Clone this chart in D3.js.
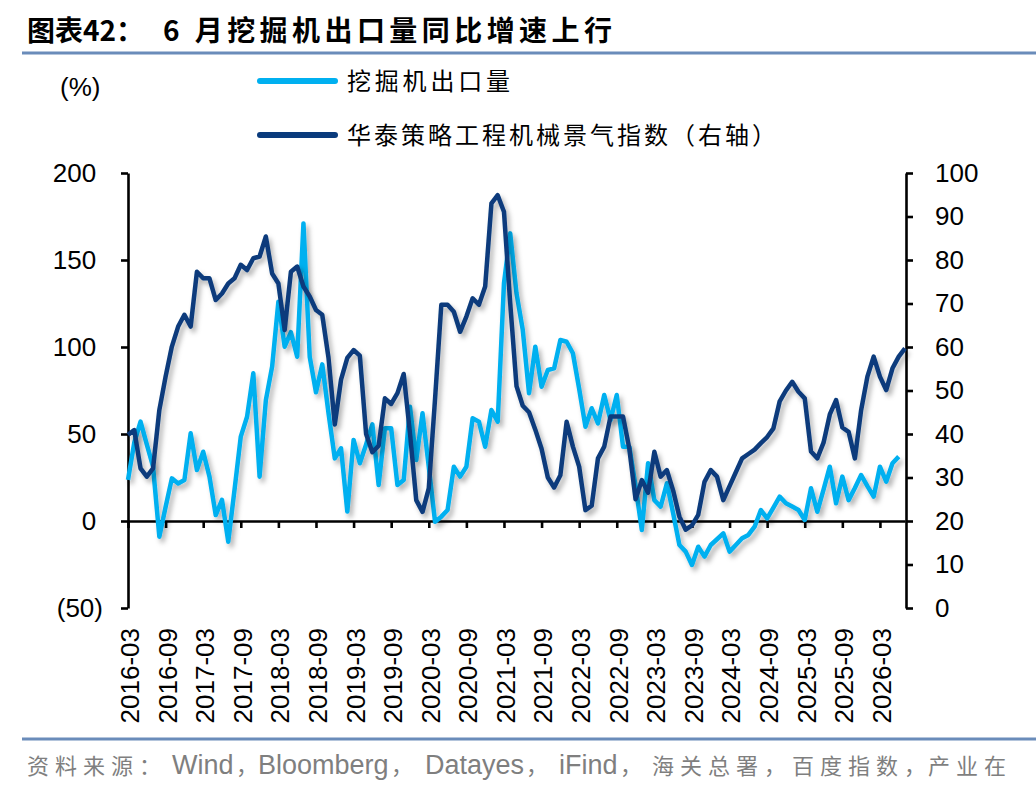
<!DOCTYPE html>
<html>
<head>
<meta charset="utf-8">
<script src="https://cdn.jsdelivr.net/npm/d3@7"></script>
<style>
  body { margin: 0; background: #fff; }
  svg { display: block; }
  .tick text { font-family: "Liberation Sans", Arial, sans-serif; font-size: 26px; fill: #000; }
  .cn { font-family: "Noto Sans CJK SC", sans-serif; }
</style>
</head>
<body>
<div id="chart"></div>
<script>
// 挖掘机出口量同比 (%), 2016-03 .. 2026-06
var exportYoY = [
  23.6, 45, 57.1, 44, 31.2, -9, 8, 24.5, 21.6, 23.6,
  50.4, 29.3, 39.8, 25.5, 3.4, 12.1, -11.9, 18, 48.5, 59.9,
  84.9, 25.5, 69.5, 88.7, 126, 100.2, 108.5, 94.4, 171, 94.4,
  74, 90, 62, 36, 41.8, 5.4, 46.6, 33.2, 44, 55.5,
  20.7, 53.3, 53.3, 20.7, 23.6, 65.7, 35, 61.9, 31.2, -0.4,
  2.5, 6.3, 31.2, 25.5, 31.2, 59, 57.1, 42.7, 63.8, 57.1,
  136.6, 165.3, 130.9, 109.8, 73.4, 100.2, 77.2, 86.8, 87.7, 104,
  103, 96.4, 76, 54.2, 64.8, 56.1, 72.4, 58, 72.4, 42.7,
  42.7, 20, -5.2, 33.2, 12, 8.2, 21.7, 4.4, -13.8, -17.6,
  -25.3, -14.8, -20.5, -13.8, -10.5, -7.1, -17.6, -13.8, -9.9, -8,
  -3.3, 6.3, 1.5, 7.7, 14, 10.2, 8.3, 6.3, 0.6, 18.8,
  5.3, 18, 31.2, 10.2, 25.5, 12, 19, 26.4, 20, 14,
  31.2, 22.6, 33.2, 37
];

// 华泰策略工程机械景气指数 (right axis), 2016-03 .. 2026-07
var boomIndex = [
  39.8, 40.9, 32.1, 30.2, 32.1, 45.5, 53.2, 60.1, 64.7, 67.4,
  64.7, 77.3, 75.8, 75.8, 70.8, 72.3, 74.6, 75.8, 78.9, 77.7,
  80.4, 80.8, 85.4, 76.9, 74.6, 63.9, 77.3, 78.5, 73.9, 71.6,
  68.5, 67.4, 57.5, 42.2, 52.5, 57.5, 59.3, 58, 40, 35.8,
  37.3, 48.2, 46.9, 49.4, 53.8, 40.2, 24.8, 22.1, 27.5, 48,
  69.7, 69.7, 68.1, 63.5, 67, 71.2, 69.7, 73.9, 93, 94.9,
  91.1, 70, 51, 46.5, 45, 41, 36.6, 30, 27.7, 30.5,
  42.8, 37.1, 32.5, 22.5, 23.5, 34.4, 37.1, 44, 44, 44,
  36.7, 25, 29.4, 26.5, 35.9, 30.2, 31.7, 27, 21, 18,
  19, 21.4, 29, 31.7, 30.2, 24.8, 28, 31.2, 34.4, 35.4,
  36.4, 37.9, 39.3, 41.3, 47.5, 50, 52, 49.7, 48.2, 36,
  34.4, 38, 44.5, 47.8, 41.5, 40.5, 34.4, 45.5, 53.2, 57.8,
  53.2, 50.1, 55.1, 57.8, 59.7
];

var months = d3.timeMonth.range(new Date(2016, 2, 1), new Date(2026, 7, 1))
  .map(d3.timeFormat("%Y-%m"));

var xTickLabels = [
  "2016-03", "2016-09", "2017-03", "2017-09", "2018-03", "2018-09", "2019-03",
  "2019-09", "2020-03", "2020-09", "2021-03", "2021-09", "2022-03", "2022-09",
  "2023-03", "2023-09", "2024-03", "2024-09", "2025-03", "2025-09", "2026-03"
];
var leftTicks = [-50, 0, 50, 100, 150, 200];
var rightTicks = [0, 10, 20, 30, 40, 50, 60, 70, 80, 90, 100];

var seriesNames = ["挖掘机出口量", "华泰策略工程机械景气指数（右轴）"];
var colors = ["#00b0f0", "#0a3b7c"];

// source line pieces: [text, x, latin?]
var sourceParts = [
  ["资料来源：", 27, false], ["Wind", 172, true], ["，", 236, false],
  ["Bloomberg", 258, true], ["，", 391, false], ["Datayes", 425, true],
  ["，", 526, false], ["iFind", 559, true], ["，", 620, false],
  ["海关总署，", 652, false], ["百度指数，", 792, false], ["产业在", 928, false]
];

var width = 1036, height = 792;

var svg = d3.select("#chart").append("svg")
  .attr("width", width)
  .attr("height", height);

svg.append("rect").attr("width", width).attr("height", height).attr("fill", "#fff");

var defs = svg.append("defs");
defs.append("filter")
    .attr("id", "shadow")
    .attr("x", "-5%").attr("y", "-5%")
    .attr("width", "115%").attr("height", "115%")
  .append("feDropShadow")
    .attr("dx", 3).attr("dy", 4)
    .attr("stdDeviation", 2.5)
    .attr("flood-color", "#000")
    .attr("flood-opacity", 0.3);

// title
var title = svg.append("text")
  .attr("class", "cn")
  .attr("y", 41)
  .attr("font-size", 28)
  .attr("font-weight", 700)
  .attr("fill", "#000");
title.append("tspan").attr("x", 27).text("图表42：");
title.append("tspan").attr("x", 163).attr("textLength", 449).text("6 月挖掘机出口量同比增速上行");

svg.append("line")
  .attr("x1", 22).attr("x2", width)
  .attr("y1", 53).attr("y2", 53)
  .attr("stroke", "#6a8cba").attr("stroke-width", 3);

// scales
var x = d3.scalePoint().domain(months).range([128, 905]);
var yL = d3.scaleLinear().domain([-50, 200]).range([608, 173]);
var yR = d3.scaleLinear().domain([0, 100]).range([608, 173]);

// unit
svg.append("text")
  .attr("x", 60).attr("y", 96)
  .attr("font-family", "Liberation Sans, Arial, sans-serif")
  .attr("font-size", 26)
  .text("(%)");

// legend
var legend = svg.append("g");
seriesNames.forEach(function(name, i) {
  var ly = 81 + i * 54;
  legend.append("line")
    .attr("x1", 260).attr("x2", 335)
    .attr("y1", ly).attr("y2", ly)
    .attr("stroke", colors[i])
    .attr("stroke-width", 6)
    .attr("stroke-linecap", "round");
  legend.append("text")
    .attr("class", "cn")
    .attr("x", 347).attr("y", ly + 9)
    .attr("font-size", 24)
    .attr("textLength", i === 0 ? 163 : 429)
    .attr("fill", "#000")
    .text(name);
});

// axes
var leftAxis = svg.append("g")
  .attr("transform", "translate(128,0)")
  .call(d3.axisLeft(yL)
    .tickValues(leftTicks)
    .tickSize(7)
    .tickSizeOuter(0)
    .tickPadding(18)
    .tickFormat(function(d) { return d < 0 ? "(" + (-d) + ")" : d; }));
leftAxis.selectAll(".tick text")
  .attr("dx", function(d) { return d < 0 ? 0 : "-0.26em"; });

svg.append("g")
  .attr("transform", "translate(906,0)")
  .call(d3.axisRight(yR)
    .tickValues(rightTicks)
    .tickSize(7)
    .tickSizeOuter(0)
    .tickPadding(22));

svg.append("g")
  .attr("transform", "translate(0," + yL(0) + ")")
  .call(d3.axisBottom(x)
    .tickValues(xTickLabels)
    .tickSize(7)
    .tickSizeOuter(0)
    .tickFormat(""));

svg.selectAll(".domain, .tick line")
  .attr("stroke", "#000")
  .attr("stroke-width", 2.6);

// x labels, low position
svg.append("g")
  .selectAll("text")
  .data(xTickLabels)
  .join("text")
    .attr("transform", function(d) { return "translate(" + x(d) + ",628) rotate(-90)"; })
    .attr("text-anchor", "end")
    .attr("dy", "0.42em")
    .attr("font-family", "Liberation Sans, Arial, sans-serif")
    .attr("font-size", 26)
    .text(function(d) { return d; });

// lines
var lightLine = d3.line()
  .x(function(d, i) { return x(months[i]); })
  .y(function(d) { return yL(d); });

var darkLine = d3.line()
  .x(function(d, i) { return x(months[i]); })
  .y(function(d) { return yR(d); });

svg.append("path")
  .datum(exportYoY)
  .attr("d", lightLine)
  .attr("fill", "none")
  .attr("stroke", colors[0])
  .attr("stroke-width", 4.5)
  .attr("stroke-linejoin", "round")
  .attr("filter", "url(#shadow)");

svg.append("path")
  .datum(boomIndex)
  .attr("d", darkLine)
  .attr("fill", "none")
  .attr("stroke", colors[1])
  .attr("stroke-width", 4.5)
  .attr("stroke-linejoin", "round")
  .attr("filter", "url(#shadow)");

// source
svg.append("line")
  .attr("x1", 22).attr("x2", width)
  .attr("y1", 739).attr("y2", 739)
  .attr("stroke", "#6a8cba").attr("stroke-width", 3);

var source = svg.append("text")
  .attr("y", 774)
  .attr("fill", "#7f7f7f");
sourceParts.forEach(function(p) {
  var isLatin = p[2];
  source.append("tspan")
    .attr("x", p[1])
    .attr("font-family", isLatin ? "Liberation Sans, Arial, sans-serif" : "Noto Sans CJK SC, sans-serif")
    .attr("font-size", isLatin ? 27 : 22)
    .attr("letter-spacing", isLatin || p[0] === "，" ? 0 : 6)
    .text(p[0]);
});
</script>
</body>
</html>
